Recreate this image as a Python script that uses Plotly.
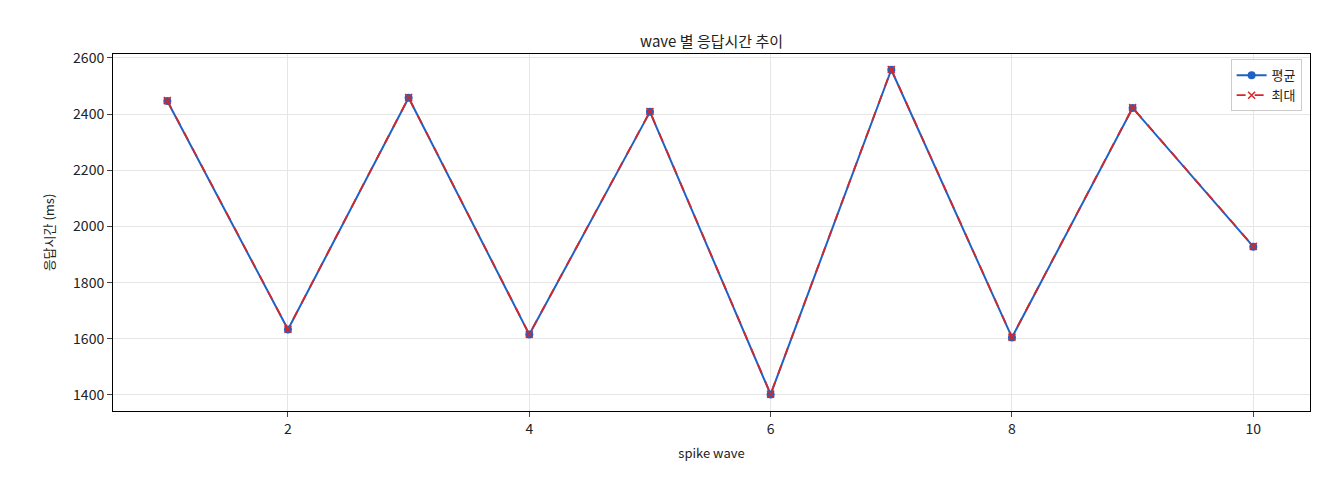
import plotly.graph_objects as go

waves = [1, 2, 3, 4, 5, 6, 7, 8, 9, 10]
avg_ms = [2447, 1633, 2458, 1615, 2408, 1402, 2558, 1605, 2422, 1928]
max_ms = [2448, 1634, 2459, 1616, 2409, 1403, 2559, 1606, 2423, 1929]

font = "Noto Sans CJK KR"
fig = go.Figure()
fig.add_trace(go.Scatter(x=waves, y=avg_ms, mode="lines+markers", name="평균",
                         line=dict(color="#1f62c4", width=2),
                         marker=dict(symbol="circle", size=8, color="#1f62c4")))
fig.add_trace(go.Scatter(x=waves, y=max_ms, mode="lines+markers", name="최대",
                         line=dict(color="#d62728", width=1.8, dash="dash"),
                         marker=dict(symbol="x-thin", size=7, color="#d62728",
                                     line=dict(color="#d62728", width=1.5))))

fig.update_layout(
    width=1320, height=480,
    paper_bgcolor="white", plot_bgcolor="white",
    font=dict(family=font, size=14, color="#222"),
    title=dict(text="wave 별 응답시간 추이", x=0.533, xanchor="center", y=0.94, font=dict(size=15)),
    margin=dict(l=105, r=18, t=46, b=77, autoexpand=False),
    legend=dict(x=0.993, y=0.985, xanchor="right", yanchor="top",
                bordercolor="#ccc", borderwidth=1, bgcolor="white", font=dict(size=13)),
    xaxis=dict(title=dict(text="spike wave", standoff=12, font=dict(size=13)), range=[0.55, 10.47],
               tickvals=[2, 4, 6, 8, 10], automargin=False,
               showgrid=True, gridcolor="#e6e6e6", showline=True, linecolor="black", mirror=True,
               ticks="outside", zeroline=False),
    yaxis=dict(title=dict(text="응답시간 (ms)", font=dict(size=13)), range=[1343, 2614], dtick=200,
               automargin=False,
               showgrid=True, gridcolor="#e6e6e6", showline=True, linecolor="black", mirror=True,
               ticks="outside", zeroline=False),
)
fig.write_html("out.html")
